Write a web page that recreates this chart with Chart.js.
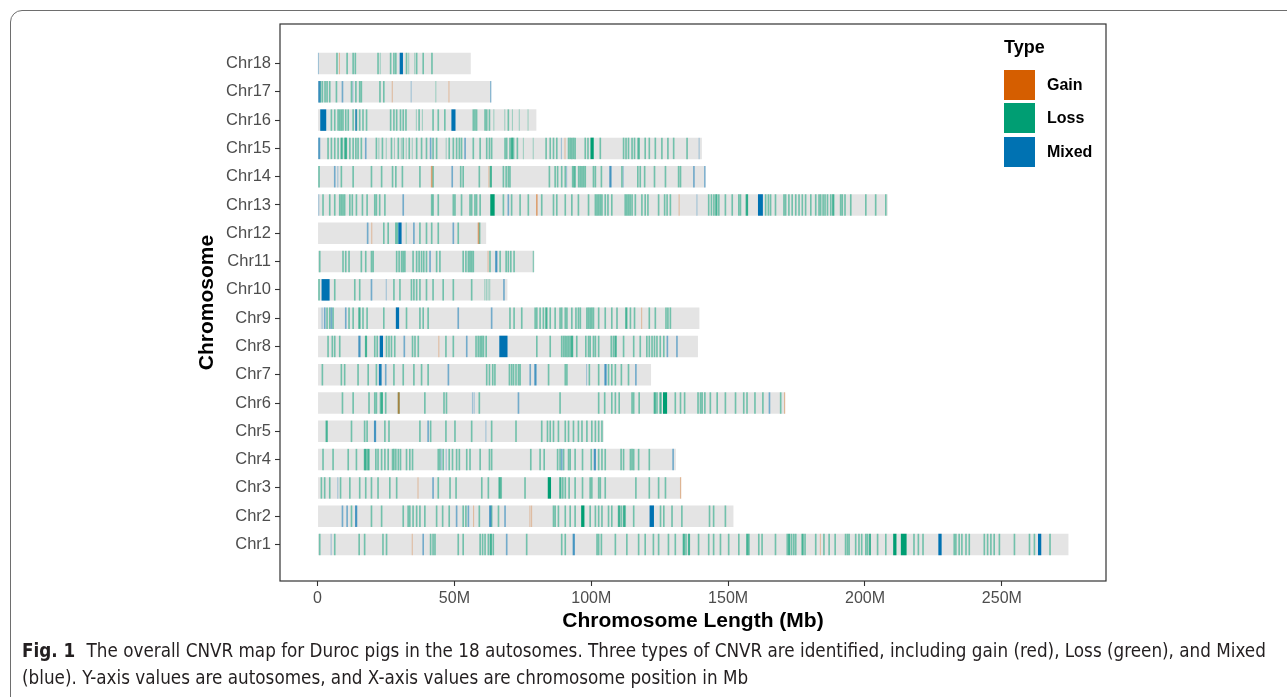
<!DOCTYPE html>
<html>
<head>
<meta charset="utf-8">
<title>CNVR map – Duroc pigs</title>
<script src="https://cdn.jsdelivr.net/npm/chart.js@4.4.1/dist/chart.umd.min.js"></script>
<style>
  html, body { margin: 0; padding: 0; background: #fff; }
  body { width: 1287px; height: 697px; position: relative; overflow: hidden; font-family: "Liberation Sans", Arial, sans-serif; }
  #frame { position: absolute; left: 10px; top: 10px; width: 1320px; height: 740px; border: 1.5px solid #6e6e6e; border-radius: 12px; box-sizing: border-box; }
  #plot { position: absolute; left: 0; top: 0; }
  .legend-title { position: absolute; left: 1004px; top: 37px; font: bold 18px "Liberation Sans", Arial, sans-serif; color: #000; }
  .legend-key { position: absolute; left: 1004px; width: 31px; height: 30px; }
  .legend-label { position: absolute; left: 1047px; font: bold 16px "Liberation Sans", Arial, sans-serif; color: #000; line-height: 30px; }
  #caption { position: absolute; left: 22px; top: 637px; font-family: "DejaVu Sans Condensed", "DejaVu Sans", sans-serif; font-size: 18.7px; line-height: 27px; color: #231f20; white-space: nowrap; }
  #caption b { font-weight: bold; margin-right: 6px; }
</style>
</head>
<body>
<div id="frame"></div>
<canvas id="plot" width="1287" height="697"></canvas>
<div id="legend"></div>
<div id="caption"><b>Fig. 1</b> The overall CNVR map for Duroc pigs in the 18 autosomes. Three types of CNVR are identified, including gain (red), Loss (green), and Mixed<br>(blue). Y-axis values are autosomes, and X-axis values are chromosome position in Mb</div>
<script>
// Autosomes and their lengths (Mb)
const chromNumbers = [1, 2, 3, 4, 5, 6, 7, 8, 9, 10, 11, 12, 13, 14, 15, 16, 17, 18];
const chromLabels = ['Chr1', 'Chr2', 'Chr3', 'Chr4', 'Chr5', 'Chr6', 'Chr7', 'Chr8', 'Chr9',
  'Chr10', 'Chr11', 'Chr12', 'Chr13', 'Chr14', 'Chr15', 'Chr16', 'Chr17', 'Chr18'];
const chromLengths = [274.33, 151.94, 132.85, 130.91, 104.53, 170.84, 121.84, 138.97, 139.51,
  69.36, 79.17, 61.60, 208.33, 141.76, 140.41, 79.94, 63.49, 55.98];

// x-axis ticks
const xTickValues = [0, 50, 100, 150, 200, 250];
const xTickLabels = ['0', '50M', '100M', '150M', '200M', '250M'];

// CNV region types
const typeLabels = ['Gain', 'Loss', 'Mixed'];
const typeColors = ['#D55E00', '#009E73', '#0072B2'];

// CNVRs: [chromosome, start (Mb), end (Mb)]
const gainRegions = [
  [18, 7.8, 8.2],
  [17, 27.1, 27.5], [17, 47.8, 48.2],
  [15, 90.2, 90.6],
  [14, 41.4, 42.0], [14, 62.4, 62.8],
  [13, 79.8, 80.4], [13, 131.9, 132.3],
  [12, 19.6, 20.0], [12, 58.5, 59.1],
  [11, 62.1, 62.5],
  [9, 118.2, 118.6],
  [8, 44.1, 44.5],
  [6, 29.3, 30.0], [6, 170.4, 170.84],
  [3, 36.5, 36.9], [3, 132.4, 132.85],
  [2, 56.8, 57.2], [2, 77.4, 77.8], [2, 78.0, 78.4],
  [1, 34.4, 34.8], [1, 183.5, 183.9]
];

const lossRegions = [
  [18, 6.8, 7.4], [18, 10.5, 11.1], [18, 12.7, 13.3], [18, 13.5, 14.1], [18, 21.8, 22.4], [18, 22.7, 23.1], [18, 26.4, 27.0],
  [18, 27.6, 28.2], [18, 28.3, 28.9], [18, 32.2, 32.8], [18, 33.1, 33.5], [18, 35.3, 35.7], [18, 35.9, 36.5], [18, 38.3, 38.9],
  [18, 41.5, 42.1],

  [17, 0.73, 1.33], [17, 1.46, 2.06], [17, 2.44, 3.04], [17, 3.17, 3.77], [17, 4.15, 4.75], [17, 6.6, 7.2], [17, 12.1, 12.7],
  [17, 13.7, 14.3], [17, 15.1, 15.7], [17, 15.7, 16.3], [17, 22.5, 23.1], [17, 23.9, 24.5], [17, 43.0, 43.4],

  [16, 4.76, 5.36], [16, 5.98, 6.58], [16, 7.2, 7.8], [16, 7.8, 8.4], [16, 8.4, 9.0], [16, 9.0, 9.6], [16, 10.0, 10.6],
  [16, 10.9, 11.5], [16, 12.7, 13.3], [16, 13.9, 14.5], [16, 15.1, 15.7], [16, 16.3, 16.9], [16, 17.6, 18.2], [16, 26.4, 27.0],
  [16, 27.6, 28.2], [16, 28.6, 29.2], [16, 30.0, 30.6], [16, 31.0, 31.6], [16, 32.0, 32.6], [16, 35.9, 36.3], [16, 36.8, 37.4],
  [16, 38.1, 38.5], [16, 41.9, 42.5], [16, 43.8, 44.4], [16, 46.2, 46.8], [16, 56.6, 57.2], [16, 57.2, 57.8], [16, 57.8, 58.4],
  [16, 60.9, 61.5], [16, 61.5, 62.1], [16, 62.5, 63.1], [16, 64.2, 64.6], [16, 68.2, 68.6], [16, 69.4, 70.0], [16, 71.0, 71.4],
  [16, 73.5, 73.9], [16, 76.7, 77.1],

  [15, 3.54, 4.14], [15, 4.76, 5.36], [15, 5.98, 6.58], [15, 7.2, 7.8], [15, 8.4, 9.2], [15, 9.6, 10.2], [15, 10.0, 10.8],
  [15, 11.5, 12.1], [15, 12.7, 13.3], [15, 13.7, 14.3], [15, 14.5, 15.1], [15, 15.7, 16.3], [15, 21.2, 21.8], [15, 22.2, 22.6],
  [15, 23.4, 24.0], [15, 24.9, 25.3], [15, 26.7, 27.3], [15, 27.9, 28.3], [15, 29.2, 29.8], [15, 30.4, 30.8], [15, 31.0, 31.6],
  [15, 32.2, 32.6], [15, 33.2, 33.8], [15, 34.4, 34.8], [15, 35.9, 36.5], [15, 37.7, 38.3], [15, 39.5, 40.1], [15, 41.9, 42.5],
  [15, 43.2, 43.8], [15, 46.8, 47.2], [15, 47.8, 48.4], [15, 49.3, 49.9], [15, 50.5, 51.1], [15, 51.5, 52.1], [15, 52.3, 52.9],
  [15, 56.6, 57.2], [15, 59.1, 59.7], [15, 61.5, 62.1], [15, 62.5, 63.1], [15, 63.3, 63.9], [15, 68.2, 68.8], [15, 68.8, 69.4],
  [15, 70.0, 70.6], [15, 70.6, 71.4], [15, 71.3, 71.9], [15, 72.7, 73.3], [15, 75.0, 75.4], [15, 78.6, 79.0], [15, 83.2, 83.8],
  [15, 84.7, 85.3], [15, 85.9, 86.5], [15, 87.1, 87.7], [15, 91.4, 92.0], [15, 92.0, 92.6], [15, 92.6, 93.2], [15, 93.2, 93.8],
  [15, 93.8, 94.4], [15, 97.5, 98.1], [15, 98.5, 99.1], [15, 99.7, 100.9], [15, 103.0, 103.6], [15, 111.5, 112.1],
  [15, 112.4, 113.0], [15, 113.3, 113.9], [15, 114.6, 115.2], [15, 115.5, 116.1], [15, 116.8, 117.4], [15, 117.2, 117.8],
  [15, 119.4, 120.0], [15, 120.9, 121.5], [15, 123.1, 123.7], [15, 125.5, 126.1], [15, 127.7, 128.3], [15, 129.8, 130.4],
  [15, 134.7, 135.3],

  [14, 0.24, 0.84], [14, 8.4, 9.0], [14, 12.7, 13.3], [14, 19.4, 20.0], [14, 23.1, 23.7], [14, 27.1, 27.7], [14, 28.3, 28.9],
  [14, 30.7, 31.3], [14, 37.1, 37.7], [14, 41.9, 42.5], [14, 52.0, 52.6], [14, 52.9, 53.5], [14, 58.8, 59.4], [14, 62.9, 63.7],
  [14, 67.6, 68.2], [14, 68.6, 69.2], [14, 69.4, 70.0], [14, 70.0, 70.6], [14, 84.4, 85.0], [14, 86.5, 87.1], [14, 87.4, 88.0],
  [14, 88.9, 89.5], [14, 90.2, 90.8], [14, 92.9, 93.5], [14, 93.4, 94.0], [14, 93.8, 94.4], [14, 95.1, 95.7], [14, 95.7, 96.3],
  [14, 96.3, 96.9], [14, 96.9, 97.5], [14, 97.5, 98.1], [14, 100.5, 101.1], [14, 101.2, 101.8], [14, 103.4, 104.0],
  [14, 110.9, 111.5], [14, 116.7, 117.3], [14, 117.6, 118.2], [14, 119.2, 119.8], [14, 122.8, 123.4], [14, 126.8, 127.4],
  [14, 131.6, 132.2], [14, 132.3, 132.9],

  [13, 1.7, 2.3], [13, 4.15, 4.75], [13, 5.98, 6.58], [13, 7.8, 8.4], [13, 8.4, 9.0], [13, 9.0, 9.6], [13, 9.6, 10.2],
  [13, 11.5, 12.1], [13, 12.4, 13.0], [13, 13.9, 14.5], [13, 16.1, 16.7], [13, 17.8, 18.4], [13, 20.6, 21.2], [13, 21.2, 21.8],
  [13, 22.4, 23.0], [13, 24.3, 24.9], [13, 41.4, 42.0], [13, 41.9, 42.5], [13, 43.8, 44.4], [13, 49.3, 49.9], [13, 49.9, 50.5],
  [13, 52.3, 52.9], [13, 55.4, 56.0], [13, 56.0, 56.6], [13, 57.2, 57.8], [13, 57.8, 58.4], [13, 59.1, 59.7], [13, 63.1, 64.7],
  [13, 67.6, 68.2], [13, 70.6, 71.2], [13, 73.7, 74.3], [13, 76.7, 77.3], [13, 81.6, 82.2], [13, 85.9, 86.5], [13, 87.1, 87.7],
  [13, 90.2, 90.8], [13, 92.6, 93.2], [13, 95.0, 95.6], [13, 98.7, 99.3], [13, 101.2, 101.8], [13, 101.8, 102.4],
  [13, 102.4, 103.0], [13, 103.0, 103.6], [13, 103.6, 104.2], [13, 104.8, 105.4], [13, 105.8, 106.4], [13, 107.2, 107.8],
  [13, 112.1, 112.7], [13, 112.7, 113.3], [13, 113.3, 113.9], [13, 113.9, 114.5], [13, 114.6, 115.2], [13, 115.8, 116.4],
  [13, 118.2, 118.8], [13, 119.4, 120.0], [13, 120.4, 121.0], [13, 124.3, 124.9], [13, 126.5, 127.1], [13, 127.4, 128.0],
  [13, 128.6, 129.2], [13, 142.6, 143.2], [13, 143.6, 144.2], [13, 144.5, 145.1], [13, 145.3, 146.1], [13, 146.3, 146.9],
  [13, 148.7, 149.3], [13, 151.2, 151.8], [13, 153.6, 154.2], [13, 154.2, 154.8], [13, 156.4, 157.3], [13, 163.4, 164.0],
  [13, 164.4, 165.0], [13, 165.2, 165.8], [13, 167.0, 167.6], [13, 170.1, 170.7], [13, 170.7, 171.3], [13, 171.9, 172.5],
  [13, 173.1, 173.7], [13, 174.4, 175.0], [13, 175.6, 176.2], [13, 176.8, 177.4], [13, 178.0, 178.6], [13, 179.9, 180.5],
  [13, 181.7, 182.3], [13, 182.9, 183.5], [13, 183.5, 184.1], [13, 184.4, 185.0], [13, 185.1, 185.7], [13, 186.0, 186.6],
  [13, 187.2, 187.8], [13, 188.0, 188.8], [13, 190.8, 191.4], [13, 191.4, 192.0], [13, 192.4, 193.0], [13, 194.5, 195.1],
  [13, 200.0, 200.6], [13, 203.6, 204.2], [13, 207.3, 207.9],

  [12, 23.9, 24.5], [12, 25.5, 26.1], [12, 28.3, 28.9], [12, 28.8, 29.4], [12, 32.2, 32.6], [12, 37.1, 37.7], [12, 39.5, 40.1],
  [12, 41.4, 42.0], [12, 43.8, 44.4], [12, 51.1, 51.7], [12, 58.9, 59.5],

  [11, 0.49, 1.09], [11, 9.0, 9.6], [11, 10.0, 10.6], [11, 11.2, 11.8], [11, 15.7, 16.3], [11, 17.3, 17.9], [11, 19.4, 20.0],
  [11, 20.0, 20.6], [11, 28.6, 29.2], [11, 29.5, 30.1], [11, 30.4, 31.0], [11, 31.0, 31.6], [11, 31.6, 32.2], [11, 34.6, 35.2],
  [11, 35.9, 36.5], [11, 36.8, 37.4], [11, 37.7, 38.3], [11, 38.5, 39.1], [11, 39.5, 40.1], [11, 43.2, 43.8], [11, 44.4, 45.0],
  [11, 52.9, 53.5], [11, 53.9, 54.5], [11, 54.8, 55.4], [11, 55.4, 56.0], [11, 56.0, 56.6], [11, 56.6, 57.2], [11, 62.7, 63.3],
  [11, 66.4, 67.0], [11, 68.6, 69.2], [11, 69.4, 70.0], [11, 70.3, 70.9], [11, 71.5, 72.1], [11, 78.6, 79.1],

  [10, 0.24, 0.84], [10, 5.98, 6.58], [10, 13.3, 13.9], [10, 15.1, 15.7], [10, 27.6, 28.2], [10, 29.8, 30.4], [10, 34.0, 34.6],
  [10, 34.9, 35.5], [10, 35.9, 36.5], [10, 37.1, 37.7], [10, 39.5, 40.1], [10, 41.9, 42.5], [10, 45.6, 46.2], [10, 49.3, 49.9],
  [10, 56.0, 56.6], [10, 60.9, 61.3], [10, 61.5, 61.9], [10, 62.1, 62.5], [10, 62.7, 63.1],

  [9, 3.17, 3.77], [9, 4.15, 4.75], [9, 5.37, 5.97], [9, 11.2, 11.8], [9, 12.7, 13.3], [9, 14.9, 15.7], [9, 16.3, 16.9],
  [9, 17.8, 18.4], [9, 23.9, 24.5], [9, 32.2, 32.8], [9, 37.1, 37.7], [9, 38.3, 38.9], [9, 40.1, 40.7], [9, 70.0, 70.6],
  [9, 71.5, 72.1], [9, 74.3, 74.9], [9, 79.2, 79.8], [9, 79.8, 80.4], [9, 81.0, 81.6], [9, 82.2, 82.8], [9, 83.2, 84.0],
  [9, 84.7, 85.3], [9, 86.5, 87.1], [9, 88.3, 88.9], [9, 88.9, 89.5], [9, 90.2, 90.8], [9, 90.8, 91.4], [9, 92.6, 93.2],
  [9, 94.1, 94.7], [9, 95.0, 95.6], [9, 95.7, 96.3], [9, 98.1, 98.7], [9, 98.7, 99.3], [9, 99.3, 99.9], [9, 99.9, 100.5],
  [9, 100.5, 101.1], [9, 102.4, 103.0], [9, 104.8, 105.4], [9, 107.2, 107.8], [9, 109.1, 109.7], [9, 112.4, 113.2],
  [9, 114.0, 114.6], [9, 115.5, 116.1], [9, 120.9, 121.5], [9, 123.1, 123.7], [9, 127.0, 127.6], [9, 127.7, 128.3],
  [9, 128.6, 129.2],

  [8, 3.54, 4.14], [8, 5.1, 5.7], [8, 5.98, 6.58], [8, 7.8, 8.4], [8, 17.3, 18.1], [8, 20.6, 21.2], [8, 21.5, 22.1],
  [8, 24.9, 25.5], [8, 25.8, 26.4], [8, 26.7, 27.3], [8, 27.9, 28.5], [8, 34.4, 35.0], [8, 35.3, 35.9], [8, 36.5, 37.1],
  [8, 46.6, 47.2], [8, 49.3, 49.9], [8, 57.6, 58.2], [8, 58.4, 59.0], [8, 59.1, 59.7], [8, 59.7, 60.3], [8, 60.3, 60.9],
  [8, 61.3, 61.9], [8, 79.8, 80.4], [8, 84.7, 85.3], [8, 88.9, 89.5], [8, 89.6, 90.2], [8, 90.2, 90.8], [8, 90.8, 91.4],
  [8, 91.4, 92.0], [8, 92.0, 92.6], [8, 92.6, 93.4], [8, 94.4, 95.0], [8, 97.7, 98.3], [8, 98.7, 99.3], [8, 99.3, 99.9],
  [8, 100.5, 101.1], [8, 101.2, 101.8], [8, 102.4, 103.0], [8, 107.0, 107.6], [8, 107.8, 108.4], [8, 108.5, 109.3],
  [8, 111.5, 112.1], [8, 115.2, 115.8], [8, 117.6, 118.2], [8, 120.0, 120.6], [8, 120.9, 121.5], [8, 121.9, 122.5],
  [8, 122.8, 123.4], [8, 123.7, 124.3], [8, 124.9, 125.5], [8, 126.2, 126.8],

  [7, 1.46, 2.06], [7, 8.4, 9.0], [7, 9.6, 10.2], [7, 14.5, 15.1], [7, 18.2, 18.8], [7, 21.2, 21.8], [7, 27.6, 28.2],
  [7, 31.0, 31.6], [7, 34.9, 35.5], [7, 37.7, 38.3], [7, 40.1, 40.7], [7, 61.5, 62.1], [7, 62.5, 63.1], [7, 63.7, 64.3],
  [7, 64.5, 65.1], [7, 69.8, 70.4], [7, 70.6, 71.2], [7, 71.3, 71.9], [7, 72.2, 72.8], [7, 73.1, 73.7], [7, 73.7, 74.3],
  [7, 84.1, 84.7], [7, 90.2, 90.8], [7, 90.8, 91.4], [7, 99.0, 99.6], [7, 102.4, 103.0], [7, 106.0, 106.6], [7, 107.2, 107.8],
  [7, 108.5, 109.1], [7, 110.7, 111.3], [7, 113.3, 113.9],

  [6, 8.8, 9.4], [6, 12.7, 13.3], [6, 18.5, 19.1], [6, 20.6, 21.2], [6, 21.2, 21.8], [6, 22.7, 23.3], [6, 23.1, 23.9],
  [6, 24.6, 25.2], [6, 29.3, 30.0], [6, 38.9, 39.5], [6, 45.9, 46.5], [6, 46.8, 47.4], [6, 58.8, 59.4], [6, 88.3, 88.9],
  [6, 102.4, 103.0], [6, 104.6, 105.2], [6, 107.2, 107.8], [6, 108.5, 109.1], [6, 109.9, 110.5], [6, 114.6, 115.2],
  [6, 115.2, 115.8], [6, 117.2, 117.8], [6, 122.8, 123.6], [6, 123.7, 124.3], [6, 124.9, 125.7], [6, 126.2, 127.7],
  [6, 130.4, 131.0], [6, 132.3, 132.9], [6, 133.8, 134.4], [6, 138.7, 139.3], [6, 139.6, 140.2], [6, 140.2, 140.8],
  [6, 141.2, 141.8], [6, 143.2, 143.8], [6, 145.7, 146.3], [6, 148.7, 149.3], [6, 152.4, 153.0], [6, 155.4, 156.0],
  [6, 156.6, 157.2], [6, 159.5, 160.1], [6, 162.4, 163.0], [6, 168.9, 169.5],

  [5, 2.93, 3.73], [5, 12.1, 12.7], [5, 16.9, 17.5], [5, 17.8, 18.4], [5, 24.3, 24.9], [5, 25.8, 26.4], [5, 37.1, 37.7],
  [5, 41.0, 41.6], [5, 46.6, 47.2], [5, 49.9, 50.5], [5, 56.0, 56.6], [5, 63.3, 63.9], [5, 72.2, 72.8], [5, 81.6, 82.2],
  [5, 83.7, 84.3], [5, 84.7, 85.3], [5, 85.9, 86.5], [5, 87.7, 88.3], [5, 90.2, 90.8], [5, 91.4, 92.0], [5, 93.2, 93.8],
  [5, 95.0, 95.6], [5, 96.3, 96.9], [5, 98.1, 98.7], [5, 99.9, 100.5], [5, 101.2, 101.8], [5, 102.4, 103.0], [5, 103.6, 104.2],

  [4, 1.7, 2.3], [4, 5.37, 5.97], [4, 10.9, 11.5], [4, 13.9, 14.5], [4, 16.9, 17.7], [4, 17.6, 18.2], [4, 18.2, 19.0],
  [4, 21.0, 21.6], [4, 21.8, 22.4], [4, 23.1, 23.7], [4, 24.3, 24.9], [4, 25.5, 26.1], [4, 27.1, 27.7], [4, 27.6, 28.2],
  [4, 28.3, 28.9], [4, 29.2, 29.8], [4, 30.0, 30.6], [4, 32.2, 32.8], [4, 33.4, 34.0], [4, 34.4, 35.0], [4, 43.8, 44.4],
  [4, 44.4, 45.0], [4, 45.6, 46.2], [4, 47.8, 48.4], [4, 49.0, 49.6], [4, 50.5, 51.1], [4, 51.5, 52.1], [4, 54.2, 54.8],
  [4, 55.4, 56.0], [4, 59.1, 59.7], [4, 62.5, 63.1], [4, 63.3, 63.9], [4, 77.6, 78.2], [4, 81.0, 81.6], [4, 82.5, 83.1],
  [4, 87.4, 88.0], [4, 88.3, 88.9], [4, 89.6, 90.2], [4, 91.4, 92.0], [4, 92.0, 92.6], [4, 93.8, 94.4], [4, 96.5, 97.1],
  [4, 99.7, 100.3], [4, 102.4, 103.0], [4, 103.6, 104.2], [4, 104.8, 105.4], [4, 110.6, 111.2], [4, 111.5, 112.1],
  [4, 114.0, 114.6], [4, 114.6, 115.2], [4, 115.2, 115.8], [4, 117.0, 117.6], [4, 120.9, 121.5],

  [3, 1.1, 1.7], [3, 2.3, 2.9], [3, 4.15, 4.75], [3, 8.1, 8.7], [3, 11.5, 12.1], [3, 15.1, 15.7], [3, 17.3, 17.9],
  [3, 19.4, 20.0], [3, 21.8, 22.4], [3, 26.1, 26.7], [3, 28.6, 29.2], [3, 43.8, 44.4], [3, 48.1, 48.7], [3, 50.3, 50.9],
  [3, 59.7, 60.3], [3, 62.1, 62.7], [3, 66.1, 66.9], [3, 66.8, 67.4], [3, 75.5, 76.1], [3, 84.1, 85.3], [3, 88.3, 89.1],
  [3, 89.3, 89.9], [3, 90.2, 90.8], [3, 91.6, 92.2], [3, 93.8, 94.4], [3, 96.5, 97.1], [3, 99.3, 99.9], [3, 99.9, 100.5],
  [3, 102.4, 103.0], [3, 103.0, 103.6], [3, 104.8, 105.4], [3, 116.0, 116.6], [3, 120.9, 121.5], [3, 124.3, 124.9],
  [3, 126.8, 127.4],

  [2, 12.1, 12.7], [2, 19.4, 20.0], [2, 23.1, 23.7], [2, 31.0, 31.6], [2, 32.8, 33.4], [2, 33.4, 34.0], [2, 34.6, 35.2],
  [2, 35.9, 36.5], [2, 37.1, 37.7], [2, 38.9, 39.5], [2, 43.2, 43.8], [2, 45.4, 46.0], [2, 47.8, 48.4], [2, 52.9, 53.5],
  [2, 53.9, 54.5], [2, 58.8, 59.4], [2, 63.3, 63.9], [2, 65.8, 66.4], [2, 85.9, 86.5], [2, 86.5, 87.1], [2, 87.7, 88.3],
  [2, 90.2, 90.8], [2, 92.0, 92.6], [2, 93.8, 94.4], [2, 96.3, 97.5], [2, 99.3, 99.9], [2, 101.2, 101.8], [2, 102.4, 103.0],
  [2, 103.6, 104.2], [2, 106.0, 106.6], [2, 107.2, 107.8], [2, 109.7, 110.5], [2, 110.6, 111.2], [2, 111.5, 112.3],
  [2, 112.1, 112.7], [2, 115.2, 115.8], [2, 125.0, 125.6], [2, 126.2, 126.8], [2, 129.2, 129.8], [2, 132.8, 133.4],
  [2, 142.9, 143.5], [2, 144.4, 145.0], [2, 148.7, 149.3],

  [1, 0.49, 1.09], [1, 5.98, 6.58], [1, 14.9, 15.5], [1, 16.9, 17.5], [1, 23.6, 24.2], [1, 24.9, 25.5], [1, 41.0, 41.6],
  [1, 41.9, 42.5], [1, 42.6, 43.2], [1, 51.1, 51.7], [1, 52.9, 53.5], [1, 59.1, 59.7], [1, 60.0, 60.6], [1, 60.9, 61.5],
  [1, 62.1, 62.7], [1, 62.9, 63.7], [1, 63.9, 64.5], [1, 76.1, 76.7], [1, 88.9, 89.5], [1, 90.2, 90.8], [1, 101.8, 102.4],
  [1, 102.4, 103.0], [1, 103.4, 104.0], [1, 108.5, 109.1], [1, 112.7, 113.3], [1, 117.0, 117.6], [1, 119.4, 120.0],
  [1, 122.4, 123.0], [1, 124.3, 124.9], [1, 127.9, 128.5], [1, 130.4, 131.0], [1, 133.4, 134.2], [1, 134.3, 134.9],
  [1, 135.3, 136.1], [1, 138.9, 139.5], [1, 142.6, 143.2], [1, 144.4, 145.0], [1, 146.9, 147.5], [1, 149.9, 150.5],
  [1, 153.6, 154.2], [1, 156.6, 157.4], [1, 157.3, 157.9], [1, 160.9, 161.5], [1, 162.1, 162.7], [1, 167.0, 167.6],
  [1, 171.3, 171.9], [1, 171.9, 172.7], [1, 172.9, 173.5], [1, 173.7, 174.3], [1, 174.4, 175.0], [1, 176.8, 177.6],
  [1, 177.8, 178.4], [1, 181.7, 182.3], [1, 184.7, 185.3], [1, 186.6, 187.2], [1, 188.8, 189.4], [1, 192.6, 193.2],
  [1, 193.3, 193.9], [1, 193.9, 194.5], [1, 196.3, 196.9], [1, 197.5, 198.1], [1, 198.5, 199.1], [1, 200.0, 200.6],
  [1, 200.6, 201.2], [1, 201.4, 202.2], [1, 204.3, 204.9], [1, 207.3, 207.9], [1, 210.3, 211.5], [1, 213.1, 215.2],
  [1, 217.6, 218.2], [1, 219.2, 219.8], [1, 220.9, 221.5], [1, 232.3, 232.9], [1, 232.9, 233.5], [1, 234.1, 234.7],
  [1, 235.1, 235.7], [1, 236.6, 237.2], [1, 237.8, 238.4], [1, 243.3, 243.9], [1, 244.5, 245.1], [1, 245.7, 246.3],
  [1, 246.9, 247.5], [1, 248.8, 249.4], [1, 254.3, 254.9], [1, 259.8, 260.4], [1, 261.6, 262.2], [1, 267.3, 267.9]
];

const mixedRegions = [
  [18, 0.12, 0.52], [18, 30.0, 31.2],
  [17, 0.25, 1.05], [17, 8.8, 9.4], [17, 12.7, 13.1], [17, 34.0, 34.4], [17, 63.0, 63.49],
  [16, 0.98, 3.17], [16, 13.7, 14.4], [16, 48.9, 50.4],
  [15, 0.24, 0.98], [15, 17.3, 17.9], [15, 41.0, 41.6], [15, 53.6, 54.2], [15, 88.9, 89.3], [15, 139.2, 139.6],
  [14, 5.98, 6.58], [14, 7.2, 7.6], [14, 48.9, 49.5], [14, 90.8, 91.2], [14, 106.6, 107.4], [14, 111.5, 111.9],
  [14, 137.2, 137.8], [14, 141.2, 141.76],
  [13, 0.24, 0.64], [13, 31.0, 31.6], [13, 69.4, 70.0], [13, 138.4, 138.8], [13, 160.9, 162.7],
  [12, 18.0, 18.6], [12, 29.5, 30.7], [12, 34.9, 35.5], [12, 49.3, 49.9],
  [11, 40.8, 41.4], [11, 64.9, 65.7],
  [10, 1.46, 4.4], [10, 19.4, 20.0], [10, 24.9, 25.3], [10, 67.8, 68.4],
  [9, 1.46, 1.86], [9, 2.32, 2.92], [9, 4.76, 5.36], [9, 10.0, 10.6], [9, 28.6, 29.8], [9, 51.1, 51.7], [9, 63.3, 63.9],
  [8, 14.9, 15.7], [8, 22.7, 23.9], [8, 31.4, 32.0], [8, 54.2, 54.8], [8, 66.4, 69.4], [8, 127.5, 128.1], [8, 131.0, 131.6],
  [7, 22.4, 23.4], [7, 24.6, 25.2], [7, 47.5, 48.1], [7, 77.4, 78.0], [7, 79.2, 80.0], [7, 98.1, 98.5], [7, 104.8, 105.6],
  [7, 116.0, 116.6],
  [6, 56.4, 56.8], [6, 57.0, 57.4], [6, 73.1, 73.7], [6, 164.8, 165.4],
  [5, 20.6, 21.4], [5, 40.1, 40.7], [5, 61.3, 61.7],
  [4, 45.0, 45.4], [4, 46.8, 47.2], [4, 88.9, 89.5], [4, 100.9, 101.7], [4, 129.6, 130.2],
  [3, 7.2, 7.6], [3, 41.9, 42.5],
  [2, 8.8, 9.4], [2, 10.5, 11.1], [2, 13.7, 14.5], [2, 50.5, 51.1], [2, 54.8, 55.4], [2, 62.7, 63.5], [2, 68.2, 68.8],
  [2, 121.3, 122.9],
  [1, 4.76, 5.16], [1, 38.3, 38.9], [1, 68.8, 69.4], [1, 93.2, 94.0], [1, 226.8, 228.0], [1, 263.2, 264.4]
];

// Horizontal floating bars: y = chromosome number, x = [start, end]
const toBars = regions => regions.map(([chr, start, end]) => ({ y: chr, x: [start, end] }));
const chromBars = chromNumbers.map((chr, i) => ({ y: chr, x: [0, chromLengths[i]] }));

// Narrow regions are drawn translucent so that overlapping ones build up colour
function regionColor(hex) {
  const r = parseInt(hex.slice(1, 3), 16), g = parseInt(hex.slice(3, 5), 16), b = parseInt(hex.slice(5, 7), 16);
  return ctx => {
    const raw = ctx.raw;
    const w = raw ? Math.abs(raw.x[1] - raw.x[0]) : 1;
    const a = Math.min(1, Math.max(0.3, w - 0.1));
    return `rgba(${r},${g},${b},${a})`;
  };
}

const barCommon = { grouped: false, borderWidth: 0, inflateAmount: 0, categoryPercentage: 1, barPercentage: 0.76 };

// Frame around the plotting panel
const panelBorder = {
  id: 'panelBorder',
  afterDraw(chart) {
    const { ctx, chartArea: a } = chart;
    ctx.save();
    ctx.strokeStyle = '#333333';
    ctx.lineWidth = 1.2;
    ctx.strokeRect(a.left, a.top, a.right - a.left, a.bottom - a.top);
    ctx.restore();
  }
};

Chart.defaults.font.family = '"Liberation Sans", Arial, sans-serif';

const chart = new Chart(document.getElementById('plot'), {
  type: 'bar',
  data: {
    datasets: [
      Object.assign({ label: typeLabels[2], data: toBars(mixedRegions), backgroundColor: regionColor(typeColors[2]), legendColor: typeColors[2], order: 1 }, barCommon),
      Object.assign({ label: typeLabels[0], data: toBars(gainRegions), backgroundColor: regionColor(typeColors[0]), legendColor: typeColors[0], order: 2 }, barCommon),
      Object.assign({ label: typeLabels[1], data: toBars(lossRegions), backgroundColor: regionColor(typeColors[1]), legendColor: typeColors[1], order: 3 }, barCommon),
      Object.assign({ label: 'Chromosome', data: chromBars, backgroundColor: '#E4E4E4', order: 10 }, barCommon)
    ]
  },
  options: {
    indexAxis: 'y',
    responsive: false,
    devicePixelRatio: 1,
    animation: false,
    events: [],
    layout: { padding: { left: 191, top: 24, right: 181, bottom: 59 } },
    plugins: { legend: { display: false }, tooltip: { enabled: false } },
    scales: {
      x: {
        type: 'linear',
        min: -13.72,
        max: 288.05,
        offset: false,
        afterBuildTicks: scale => { scale.ticks = xTickValues.map(v => ({ value: v })); },
        afterFit: scale => { scale.height = 57; },
        ticks: {
          autoSkip: false,
          maxRotation: 0,
          padding: 3,
          color: '#4D4D4D',
          font: { size: 16 },
          callback: (value, index) => xTickLabels[index]
        },
        grid: { display: true, offset: false, drawOnChartArea: false, drawTicks: true, tickLength: 5, tickColor: '#333333', tickWidth: 1.1 },
        border: { display: false },
        title: { display: true, text: 'Chromosome Length (Mb)', color: '#000', font: { size: 21, weight: 'bold' }, padding: { top: 4, bottom: 4 } }
      },
      y: {
        type: 'linear',
        min: -0.29,
        max: 19.396,
        offset: false,
        afterBuildTicks: scale => { scale.ticks = chromNumbers.map(v => ({ value: v })); },
        afterFit: scale => { scale.width = 89; },
        ticks: {
          autoSkip: false,
          padding: 4,
          color: '#4D4D4D',
          font: { size: 16.5 },
          callback: (value, index) => chromLabels[index]
        },
        grid: { display: true, offset: false, drawOnChartArea: false, drawTicks: true, tickLength: 5, tickColor: '#333333', tickWidth: 1.1 },
        border: { display: false },
        title: { display: true, text: 'Chromosome', color: '#000', font: { size: 21, weight: 'bold' }, padding: { top: 4, bottom: 4 } }
      }
    }
  },
  plugins: [panelBorder]
});

// Legend ("Type") built from the CNVR datasets
(function buildLegend() {
  const box = document.getElementById('legend');
  const title = document.createElement('div');
  title.className = 'legend-title';
  title.textContent = 'Type';
  box.appendChild(title);
  const keyTops = [69.5, 103, 136.5];
  typeLabels.forEach((label, i) => {
    const ds = chart.data.datasets.find(d => d.label === label);
    const key = document.createElement('div');
    key.className = 'legend-key';
    key.style.top = keyTops[i] + 'px';
    key.style.background = ds.legendColor;
    box.appendChild(key);
    const text = document.createElement('div');
    text.className = 'legend-label';
    text.style.top = keyTops[i] + 'px';
    text.textContent = label;
    box.appendChild(text);
  });
})();
</script>
</body>
</html>
